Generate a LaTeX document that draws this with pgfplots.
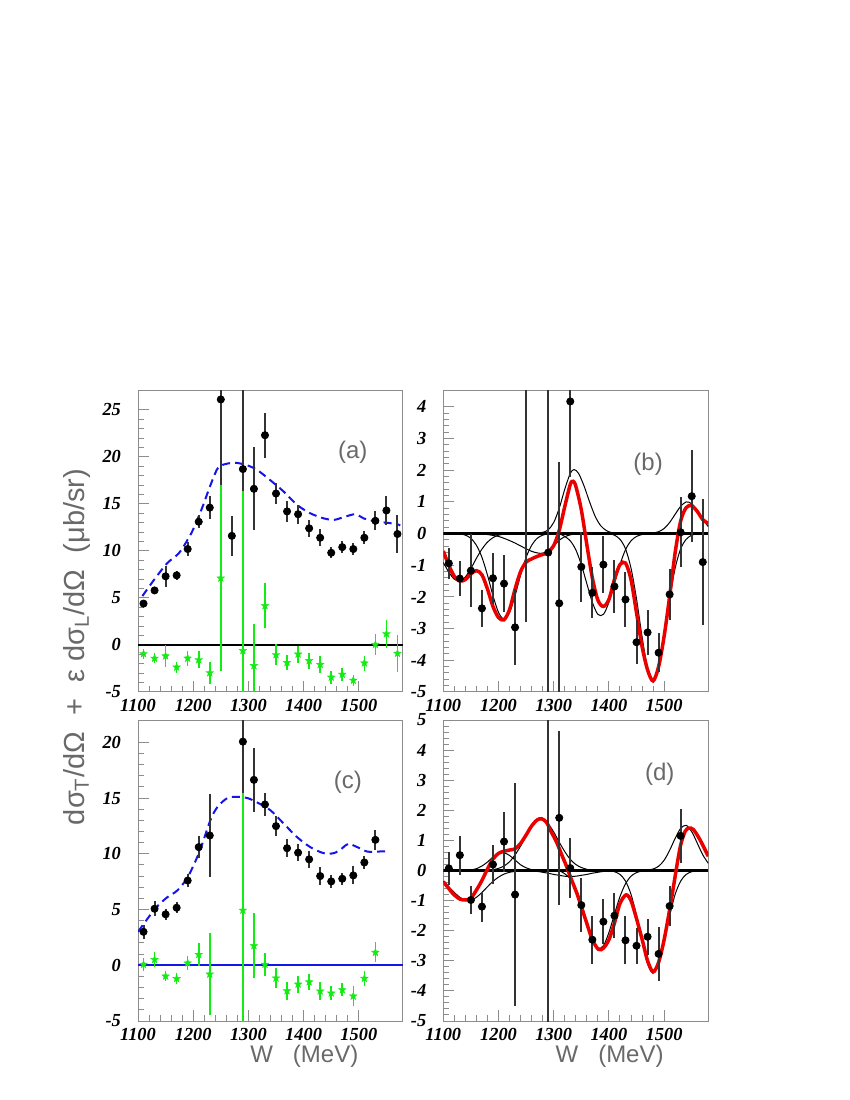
\documentclass[border=0pt]{standalone}
\usepackage{fontspec}
\setmainfont{Liberation Serif}
\newfontfamily\titlefont{Liberation Sans}
\usepackage{pgfplots}
\usepackage{pgfplotstable}
\pgfplotsset{compat=1.18}

\definecolor{framegray}{RGB}{140,140,140}
\definecolor{titlegray}{RGB}{105,105,105}
\definecolor{rootgreen}{RGB}{20,235,20}
\definecolor{rootblue}{RGB}{20,20,235}
\definecolor{rootred}{RGB}{235,0,0}

% filled five-pointed star
\pgfdeclareplotmark{fstar}{%
  \pgfpathmoveto{\pgfpointpolar{90}{\pgfplotmarksize}}%
  \pgfpathlineto{\pgfpointpolar{126}{0.42*\pgfplotmarksize}}%
  \pgfpathlineto{\pgfpointpolar{162}{\pgfplotmarksize}}%
  \pgfpathlineto{\pgfpointpolar{198}{0.42*\pgfplotmarksize}}%
  \pgfpathlineto{\pgfpointpolar{234}{\pgfplotmarksize}}%
  \pgfpathlineto{\pgfpointpolar{270}{0.42*\pgfplotmarksize}}%
  \pgfpathlineto{\pgfpointpolar{306}{\pgfplotmarksize}}%
  \pgfpathlineto{\pgfpointpolar{342}{0.42*\pgfplotmarksize}}%
  \pgfpathlineto{\pgfpointpolar{18}{\pgfplotmarksize}}%
  \pgfpathlineto{\pgfpointpolar{54}{0.42*\pgfplotmarksize}}%
  \pgfpathclose
  \pgfusepathqfillstroke
}

% (a) black points
\pgfplotstableread{
x y e
1110 4.4 0.4
1130 5.8 0.4
1150 7.3 1.1
1170 7.4 0.5
1190 10.2 0.7
1210 13.1 0.7
1230 14.6 1.2
1250 26.1 9.2
1270 11.6 2.1
1290 18.7 9.0
1310 16.6 4.4
1330 22.3 2.4
1350 16.1 1.1
1370 14.2 1.1
1390 13.9 1.0
1410 12.4 0.9
1430 11.4 0.9
1450 9.8 0.6
1470 10.4 0.6
1490 10.2 0.6
1510 11.4 0.7
1530 13.2 1.0
1550 14.3 1.5
1570 11.8 2.0
}\aBlack

% (a) green stars = (b) points
\pgfplotstableread{
x y e
1110 -0.94 0.5
1130 -1.42 0.55
1150 -1.17 1.15
1170 -2.36 0.58
1190 -1.41 0.8
1210 -1.58 0.9
1230 -2.96 1.2
1250 7.1 9.9
1290 -0.6 17.0
1310 -2.2 4.45
1330 4.17 2.4
1350 -1.05 1.1
1370 -1.87 0.8
1390 -0.98 0.9
1410 -1.67 0.85
1430 -2.08 0.88
1450 -3.43 0.7
1470 -3.12 0.72
1490 -3.76 0.62
1510 -1.92 0.8
1530 0.04 1.1
1550 1.18 1.45
1570 -0.9 2.0
}\aGreen

% (c) black points
\pgfplotstableread{
x y e
1110 3.0 0.6
1130 5.07 0.65
1150 4.57 0.5
1170 5.16 0.5
1190 7.6 0.6
1210 10.6 0.95
1230 11.64 3.7
1290 20.06 4.7
1310 16.63 2.85
1330 14.42 1.0
1350 12.48 0.93
1370 10.5 0.8
1390 10.1 0.75
1410 9.5 0.75
1430 8.0 0.8
1450 7.52 0.55
1470 7.76 0.55
1490 8.06 0.8
1510 9.22 0.6
1530 11.25 0.9
}\cBlack

% (c) green stars
\pgfplotstableread{
x y e
1110 0.07 0.55
1130 0.51 0.65
1150 -0.98 0.45
1170 -1.2 0.5
1190 0.2 0.65
1210 0.96 1.0
1230 -0.8 3.7
1290 4.93 10.5
1310 1.75 2.9
1330 0.08 1.0
1350 -1.15 0.9
1370 -2.3 0.8
1390 -1.7 0.75
1410 -1.5 0.75
1430 -2.32 0.8
1450 -2.5 0.6
1470 -2.2 0.6
1490 -2.77 0.9
1510 -1.18 0.65
1530 1.15 0.9
}\cGreen

% (d) points
\pgfplotstableread{
x y e
1110 0.07 0.55
1130 0.51 0.65
1150 -0.98 0.45
1170 -1.2 0.5
1190 0.2 0.65
1210 0.96 1.0
1230 -0.8 3.7
1290 5.3 10.5
1310 1.75 2.9
1330 0.08 1.0
1350 -1.15 0.9
1370 -2.3 0.8
1390 -1.7 0.75
1410 -1.5 0.75
1430 -2.32 0.8
1450 -2.5 0.6
1470 -2.2 0.6
1490 -2.77 0.9
1510 -1.18 0.65
1530 1.15 0.9
}\dBlack

\pgfplotsset{
  panel/.style={scale only axis, width=132.5pt, height=150.5pt,
    xmin=1100, xmax=1580, anchor=south west,
    axis line style={framegray, line width=0.5pt},
    tick style={framegray, line width=0.5pt},
    tick align=inside, tick pos=left,
    major tick length=5.5pt, minor tick length=2.8pt,
    xtick={1100,1200,1300,1400,1500}, minor x tick num=4, minor y tick num=4,
    tick label style={font=\fontsize{9.2}{10}\selectfont\bfseries\itshape, black},
    yticklabel style={xshift=-5pt},
    /pgf/number format/assume math mode=true,
    /pgf/number format/1000 sep={},
    scaled ticks=false, clip mode=individual, clip marker paths=true},
  datapts/.style={only marks, mark=*, mark size=1.8pt,
    mark options={draw=black, fill=black},
    /pgfplots/error bars/y dir=both, /pgfplots/error bars/y explicit,
    /pgfplots/error bars/error mark=none,
    /pgfplots/error bars/error bar style={line width=1pt, black!80}},
  starpts/.style={only marks, mark=fstar, mark size=2pt,
    mark options={draw=rootgreen, fill=rootgreen, line width=0.2pt},
    /pgfplots/error bars/y dir=both, /pgfplots/error bars/y explicit,
    /pgfplots/error bars/error mark=none,
    /pgfplots/error bars/error bar style={line width=0.8pt, rootgreen}},
  comp/.style={black, line width=0.5pt, smooth, no markers},
  fit/.style={rootred, line width=1.75pt, smooth, no markers},
  theory/.style={rootblue, line width=1pt, dash pattern=on 4pt off 2.5pt, smooth, no markers},
}
\tikzset{
  plab/.style={font=\titlefont\fontsize{12}{12}\selectfont, text=titlegray},
  wlab/.style={anchor=east, font=\titlefont\fontsize{12}{12}\selectfont, text=titlegray},
}

\begin{document}
\begin{tikzpicture}
\useasboundingbox (0,0) rectangle (425pt,550pt);

% ---------------- (a) ----------------
\begin{axis}[panel, at={(69pt,204pt)}, ymin=-5, ymax=27, ytick={-5,0,5,10,15,20,25}]
  \addplot[black, line width=0.6pt] coordinates {(1100,0) (1580,0)};
  \addplot[theory] coordinates {
    (1108,5.2) (1130,7.0) (1153,8.7) (1174,9.75) (1190,11.2) (1200,12.3)
    (1217,14.7) (1230,16.8) (1244,18.75) (1256,19.2) (1270,19.35) (1280,19.35)
    (1298,19.1) (1316,18.6) (1340,17.5) (1364,16.3) (1388,14.9) (1412,14.0)
    (1437,13.45) (1455,13.3) (1473,13.6) (1494,13.9) (1509,13.45) (1533,13.1)
    (1550,13.0) (1569,12.85) (1575,12.7)};
  \addplot[datapts] table[x=x, y=y, y error=e] {\aBlack};
  \addplot[starpts] table[x=x, y=y, y error=e] {\aGreen};
  \node[plab] at (axis cs:1489,20.5) {(a)};
\end{axis}

% ---------------- (b) ----------------
\begin{axis}[panel, at={(221.65pt,204pt)}, ymin=-5, ymax=4.5, ytick={-5,-4,...,4}]
  \addplot[black, line width=1.2pt] coordinates {(1100,0) (1580,0)};
  \addplot[comp] coordinates {(1100,-0.91) (1110,-1.22) (1120,-1.44) (1130,-1.50) (1140,-1.37)
    (1150,-1.10) (1160,-0.78) (1170,-0.49) (1180,-0.27) (1190,-0.13) (1200,-0.05) (1210,-0.02) (1225,0)};
  \addplot[comp] coordinates {(1130,0) (1140,-0.05) (1150,-0.15) (1160,-0.37) (1170,-0.75)
    (1180,-1.31) (1190,-1.96) (1200,-2.49) (1210,-2.7) (1220,-2.49) (1230,-1.96)
    (1240,-1.31) (1250,-0.75) (1260,-0.37) (1270,-0.15) (1280,-0.05) (1290,0)};
  \addplot[comp] coordinates {(1160,0) (1180,-0.03) (1190,-0.06) (1200,-0.09) (1210,-0.15)
    (1220,-0.22) (1230,-0.30) (1240,-0.39) (1250,-0.48) (1260,-0.56) (1270,-0.61)
    (1280,-0.62) (1290,-0.53) (1300,-0.38) (1310,-0.21) (1320,-0.10) (1330,-0.04) (1345,0)};
  \addplot[comp] coordinates {(1260,0) (1280,0.04) (1290,0.12) (1300,0.35) (1310,0.8)
    (1320,1.4) (1330,1.9) (1337,2.02) (1345,1.9) (1355,1.5) (1365,1.0) (1375,0.55)
    (1385,0.25) (1395,0.1) (1405,0.03) (1420,0)};
  \addplot[comp] coordinates {(1310,0) (1320,-0.09) (1330,-0.23) (1340,-0.51) (1350,-0.98)
    (1360,-1.58) (1370,-2.17) (1380,-2.55) (1390,-2.55) (1400,-2.17) (1410,-1.58)
    (1420,-0.98) (1430,-0.51) (1440,-0.23) (1450,-0.09) (1460,-0.03) (1470,0)};
  \addplot[comp] coordinates {(1400,0) (1410,-0.05) (1420,-0.18) (1430,-0.48) (1440,-1.09)
    (1450,-2.06) (1460,-3.25) (1470,-4.26) (1480,-4.67) (1490,-4.26) (1500,-3.25)
    (1510,-2.06) (1520,-1.09) (1530,-0.48) (1540,-0.18) (1550,-0.05) (1560,0)};
  \addplot[comp] coordinates {(1470,0) (1480,0.02) (1490,0.06) (1500,0.16) (1510,0.35)
    (1520,0.61) (1530,0.86) (1540,1.0) (1550,0.94) (1560,0.72) (1570,0.45) (1580,0.22)};
  \addplot[fit] coordinates {
    (1100,-0.55) (1110,-1.0) (1120,-1.35) (1130,-1.5) (1140,-1.45) (1150,-1.27)
    (1160,-1.17) (1170,-1.3) (1180,-1.75) (1190,-2.3) (1200,-2.65) (1210,-2.72)
    (1220,-2.4) (1230,-1.75) (1240,-1.2) (1250,-0.9) (1260,-0.8) (1270,-0.72)
    (1280,-0.66) (1290,-0.58) (1300,-0.38) (1310,0.1) (1320,0.85) (1330,1.55)
    (1335,1.65) (1340,1.5) (1350,0.75) (1360,-0.35) (1370,-1.4) (1380,-2.1)
    (1390,-2.3) (1400,-2.08) (1410,-1.45) (1420,-0.98) (1430,-0.93) (1440,-1.45)
    (1450,-2.5) (1460,-3.56) (1470,-4.3) (1480,-4.65) (1490,-4.2) (1500,-3.24)
    (1510,-1.98) (1520,-0.6) (1530,0.4) (1540,0.82) (1550,0.88) (1560,0.7)
    (1570,0.44) (1580,0.32)};
  \addplot[datapts] table[x=x, y=y, y error=e] {\aGreen};
  \node[plab] at (axis cs:1471,2.18) {(b)};
\end{axis}

% ---------------- (c) ----------------
\begin{axis}[panel, at={(69pt,39.5pt)}, ymin=-5, ymax=22, ytick={-5,0,5,10,15,20}]
  \addplot[rootblue, line width=1pt] coordinates {(1100,0) (1580,0)};
  \addplot[theory] coordinates {
    (1100,3.0) (1131,5.07) (1153,6.1) (1171,6.7) (1190,7.9) (1211,10.15)
    (1231,13.0) (1244,14.2) (1262,15.0) (1280,15.1) (1298,15.0) (1316,14.6)
    (1340,13.9) (1364,12.7) (1388,11.5) (1412,10.6) (1436,10.06) (1455,10.06)
    (1470,10.5) (1481,10.9) (1497,10.6) (1515,10.2) (1535,10.2) (1555,10.24)};
  \addplot[datapts] table[x=x, y=y, y error=e] {\cBlack};
  \addplot[starpts] table[x=x, y=y, y error=e] {\cGreen};
  \node[plab] at (axis cs:1480,16.4) {(c)};
  \node[wlab] at (axis description cs:0.858,-0.116) {W\hspace{10pt}(MeV)};
\end{axis}

% ---------------- (d) ----------------
\begin{axis}[panel, at={(221.65pt,39.5pt)}, ymin=-5, ymax=5, ytick={-5,-4,...,5}]
  \addplot[black, line width=1.2pt] coordinates {(1100,0) (1580,0)};
  \addplot[comp] coordinates {(1100,-0.36) (1110,-0.54) (1120,-0.73) (1130,-0.89) (1140,-0.99)
    (1150,-0.99) (1160,-0.89) (1170,-0.73) (1180,-0.54) (1190,-0.36) (1200,-0.22)
    (1210,-0.12) (1220,-0.06) (1230,-0.03) (1240,-0.01) (1250,0)};
  \addplot[comp] coordinates {(1140,0) (1150,0.02) (1160,0.06) (1170,0.15) (1180,0.28)
    (1190,0.45) (1200,0.57) (1210,0.59) (1220,0.50) (1230,0.35) (1240,0.19)
    (1250,0.09) (1260,0.03) (1270,0.01) (1280,0)};
  \addplot[comp] coordinates {(1180,0) (1190,0.03) (1200,0.07) (1210,0.15) (1220,0.29)
    (1230,0.52) (1240,0.81) (1250,1.15) (1260,1.45) (1270,1.66) (1280,1.69)
    (1290,1.55) (1300,1.28) (1310,0.94) (1320,0.63) (1330,0.37) (1340,0.2)
    (1350,0.1) (1360,0.04) (1370,0.01) (1380,0)};
  \addplot[comp] coordinates {(1240,0) (1270,-0.03) (1280,-0.06) (1290,-0.09) (1300,-0.13)
    (1310,-0.16) (1320,-0.19) (1330,-0.2) (1340,-0.19) (1350,-0.16) (1360,-0.13)
    (1370,-0.09) (1380,-0.06) (1390,-0.03) (1410,0)};
  \addplot[comp] coordinates {(1310,0) (1320,-0.11) (1330,-0.27) (1340,-0.59) (1350,-1.09)
    (1360,-1.70) (1370,-2.27) (1380,-2.58) (1390,-2.50) (1400,-2.06) (1410,-1.45)
    (1420,-0.87) (1430,-0.44) (1440,-0.19) (1450,-0.07) (1460,-0.02) (1470,0)};
  \addplot[comp] coordinates {(1400,0) (1410,-0.04) (1420,-0.13) (1430,-0.35) (1440,-0.79)
    (1450,-1.50) (1460,-2.36) (1470,-3.10) (1480,-3.4) (1490,-3.10) (1500,-2.36)
    (1510,-1.50) (1520,-0.79) (1530,-0.35) (1540,-0.13) (1550,-0.04) (1560,0)};
  \addplot[comp] coordinates {(1460,0) (1470,0.01) (1480,0.05) (1490,0.14) (1500,0.34)
    (1510,0.67) (1520,1.07) (1530,1.40) (1540,1.5) (1550,1.29) (1560,0.91)
    (1570,0.52) (1580,0.24)};
  \addplot[fit] coordinates {
    (1100,-0.37) (1110,-0.6) (1118,-0.78) (1130,-0.95) (1140,-0.98) (1150,-0.92)
    (1160,-0.65) (1170,-0.33) (1180,0.05) (1190,0.38) (1200,0.57) (1210,0.64)
    (1220,0.68) (1230,0.72) (1240,0.9) (1250,1.18) (1260,1.48) (1270,1.68)
    (1278,1.72) (1287,1.6) (1295,1.3) (1305,0.95) (1315,0.5) (1323,0.15)
    (1330,-0.2) (1342,-0.76) (1350,-1.2) (1360,-1.76) (1370,-2.3) (1381,-2.62)
    (1390,-2.58) (1400,-2.3) (1410,-1.75) (1420,-1.1) (1431,-0.81) (1440,-1.0)
    (1450,-1.6) (1462,-2.42) (1470,-3.0) (1480,-3.37) (1490,-3.05) (1500,-2.3)
    (1510,-1.3) (1517,-0.53) (1523,0.15) (1530,0.85) (1538,1.3) (1545,1.41)
    (1553,1.36) (1565,1.02) (1580,0.47)};
  \addplot[datapts] table[x=x, y=y, y error=e] {\dBlack};
  \node[plab] at (axis cs:1492,3.19) {(d)};
  \node[wlab] at (axis description cs:0.858,-0.116) {W\hspace{10pt}(MeV)};
\end{axis}

% common y title
\node[rotate=90, font=\titlefont\fontsize{14.5}{15}\selectfont, text=titlegray]
  at (38.5pt,226.5pt) {dσ\textsubscript{T}/dΩ\ \ +\ \ ε\ dσ\textsubscript{L}/dΩ\ \ (μb/sr)};
\end{tikzpicture}
\end{document}
